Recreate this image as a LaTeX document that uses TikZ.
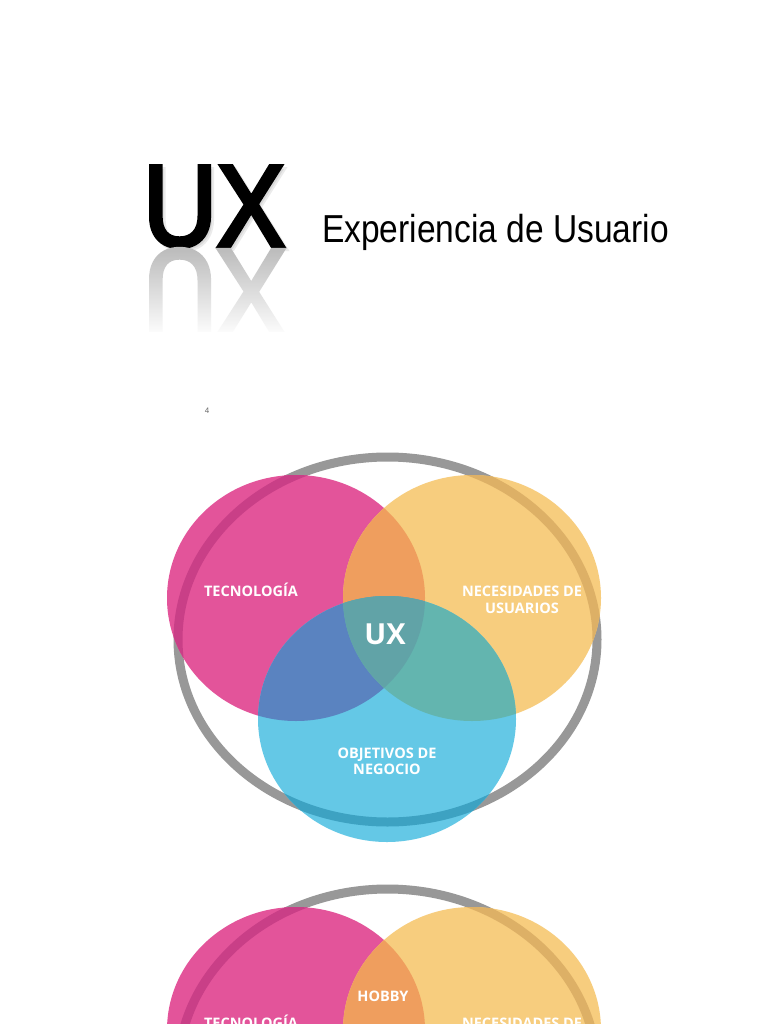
\documentclass[tikz,border=0pt]{standalone}
\usepackage{fontspec}
\usetikzlibrary{fadings}
\setmainfont{Liberation Sans}
\newfontfamily\titlefont[FakeStretch=0.86]{Liberation Sans}
\newfontfamily\uxfont[FakeStretch=0.88, FakeBold=3.5]{Liberation Sans}
\newfontfamily\labelfont{Open Sans}
\definecolor{vpink}{HTML}{E3549A}
\definecolor{vyellow}{HTML}{F7CD7E}
\definecolor{vblue}{HTML}{64C8E6}
\definecolor{vpy}{HTML}{EF9E5E}
\definecolor{vpb}{HTML}{5A83C0}
\definecolor{vyb}{HTML}{63B5AF}
\definecolor{vall}{HTML}{61A3A7}
\definecolor{ringgray}{HTML}{989898}
\definecolor{ringpink}{HTML}{C93F87}
\definecolor{ringyellow}{HTML}{DDB066}
\definecolor{ringblue}{HTML}{3DA2C2}
\def\VPink{(296,598) ellipse [x radius=129, y radius=123]}
\def\VYellow{(472,598) ellipse [x radius=129, y radius=123]}
\def\VBlue{(387,719) ellipse [x radius=129, y radius=123]}
\def\VRing{(387.5,639.5) ellipse [x radius=209.5, y radius=182.5]}
\begin{document}
\begin{tikzpicture}[x=1pt,y=-1pt,
  lbl/.style={font=\labelfont\bfseries\fontsize{14.5}{17}\selectfont, text=white, inner sep=0pt, anchor=base},
  bigux/.style={font=\uxfont\fontsize{116}{116}\selectfont, inner sep=0pt, anchor=base west},
  ringline/.style={line width=9pt}]
\useasboundingbox (0,0) rectangle (768,1024);
\clip (0,0) rectangle (768,1024);
\fill[white] (0,0) rectangle (768,1024);

% ---- title ----
\node (uxshadow) [bigux, text=black, opacity=0.08] at (146,249) {UX};
\node (ux) [bigux, text=black] at (143,246) {UX};
\begin{scope}[shift={(0,250)}, yscale=-1, transform shape]
  \node (uxreflect) [bigux, text=black!26] at (143,0) {UX};
\end{scope}
\fill[white, path fading=north] (125,250) rectangle (305,336);
\node (subtitle) [anchor=base west, inner sep=0pt, font=\titlefont\fontsize{39}{39}\selectfont] at (322,243) {Experiencia de Usuario};
\node (pagenum) [font=\fontsize{8}{8}\selectfont, text=black!60, inner sep=0pt] at (207,411) {4};

% ---- diagram 1 ----
\draw[ringgray, ringline] \VRing;
\fill[vpink] \VPink;
\fill[vyellow] \VYellow;
\fill[vblue] \VBlue;
\begin{scope}\clip \VPink; \fill[vpy] \VYellow; \end{scope}
\begin{scope}\clip \VPink; \fill[vpb] \VBlue; \end{scope}
\begin{scope}\clip \VYellow; \fill[vyb] \VBlue; \end{scope}
\begin{scope}\clip \VPink; \clip \VYellow; \fill[vall] \VBlue; \end{scope}
\begin{scope}\clip \VPink; \draw[ringpink, ringline] \VRing; \end{scope}
\begin{scope}\clip \VYellow; \draw[ringyellow, ringline] \VRing; \end{scope}
\begin{scope}\clip \VBlue; \draw[ringblue, ringline] \VRing; \end{scope}
\node (tec) [lbl] at (251,596) {TECNOLOGÍA};
\node (nec1) [lbl] at (522,596) {NECESIDADES DE};
\node (nec2) [lbl] at (522,613) {USUARIOS};
\node (uxc) [lbl, font=\labelfont\bfseries\fontsize{29}{29}\selectfont] at (385,644) {UX};
\node (obj1) [lbl] at (387,758) {OBJETIVOS DE};
\node (obj2) [lbl] at (387,774) {NEGOCIO};

% ---- diagram 2 (partly shown) ----
\begin{scope}[shift={(0,432)}]
\draw[ringgray, ringline] \VRing;
\fill[vpink] \VPink;
\fill[vyellow] \VYellow;
\begin{scope}\clip \VPink; \fill[vpy] \VYellow; \end{scope}
\begin{scope}\clip \VPink; \draw[ringpink, ringline] \VRing; \end{scope}
\begin{scope}\clip \VYellow; \draw[ringyellow, ringline] \VRing; \end{scope}
\node (hobby) [lbl] at (383,569) {HOBBY};
\node (tecb) [lbl] at (251,596) {TECNOLOGÍA};
\node (necb) [lbl] at (522,596) {NECESIDADES DE};
\end{scope}
\end{tikzpicture}
\end{document}
